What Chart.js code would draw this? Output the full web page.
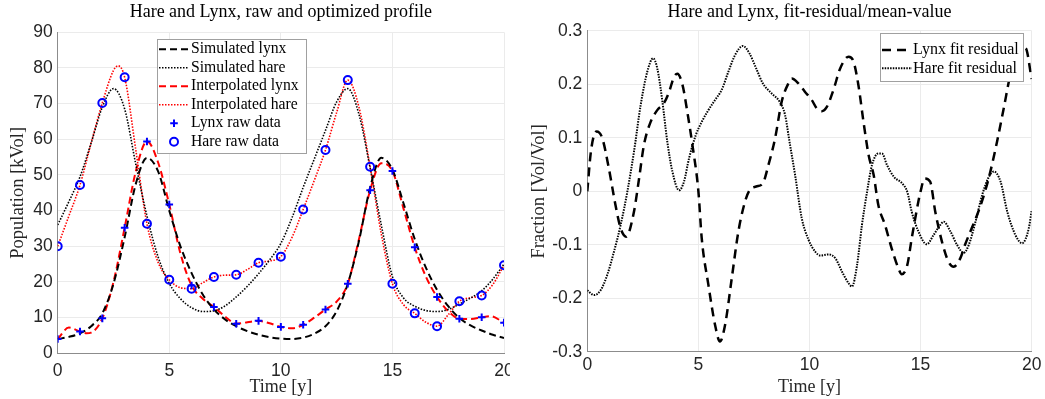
<!DOCTYPE html>
<html><head><meta charset="utf-8">
<script src="https://cdn.jsdelivr.net/npm/chart.js@4.4.1/dist/chart.umd.min.js"></script>
<style>
html,body{margin:0;padding:0;background:#fff;width:1045px;height:399px;overflow:hidden}
#c1{position:absolute;left:0;top:0}
#c2{position:absolute;left:510px;top:0}
</style></head><body>
<canvas id="c1" width="510" height="399"></canvas>
<canvas id="c2" width="535" height="399"></canvas>
<script>
// ---------- Left chart data ----------
const years = [0,1,2,3,4,5,6,7,8,9,10,11,12,13,14,15,16,17,18,19,20];
const hareRaw = [30,47.2,70.2,77.4,36.3,20.6,18.1,21.4,22,25.4,27.1,40.3,57,76.6,52.3,19.5,11.2,7.6,14.6,16.2,24.7];
const lynxRaw = [4,6.1,9.8,35.2,59.4,41.7,19,13,8.3,9.1,7.4,8,12.3,19.5,45.7,51.1,29.7,15.8,9.7,10.1,8.6];

const tSim = [0,0.5,1,1.5,2,2.5,3,3.5,4,4.5,5,5.5,6,6.5,7,7.5,8,8.5,9,9.5,10,10.5,11,11.5,12,12.5,13,13.5,14,14.5,15,15.5,16,16.5,17,17.5,18,18.5,19,19.5,20];
const simHare = [36,42.5,49.5,59,69,74.2,68.5,53,38.5,27,19.6,15.3,12.8,11.7,11.9,13.3,15.8,18.8,22.3,26.2,30.8,38,46.5,54.5,62.5,70.5,74.2,67,52,36,21.5,15.5,13.2,12,11.7,12.3,13.8,15.5,17.5,20.8,25];
const simLynx = [4.0,4.6,5.6,7.6,11.2,19.5,32.5,47.5,54.8,51,40,30,22.5,16.5,12.3,9.5,7.6,6.2,5.2,4.5,4.1,4.0,4.4,5.5,7.6,11.8,19.5,31.5,46.5,54.8,51.5,42,32,24,17.8,13.2,9.9,7.8,6.4,5.2,4.3];

const tIntHare = [0,0.5,1,1.5,2,2.5,2.7,3,3.5,4,4.5,5,5.5,6,6.5,7,7.5,8,8.5,9,9.5,10,10.5,11,11.5,12,12.5,13,13.5,14,14.5,15,15.5,16,16.5,17,17.5,18,18.5,19,19.5,20];
const intHare = [30,38.5,47.2,59,70.2,79.3,80.6,77.4,57,36.3,25.5,20.6,18.4,18.1,19.8,21.4,21.9,22,23.5,25.4,25.9,27.1,32.5,40.3,48.5,57,67.5,76.6,69,52.3,33.5,19.5,13.6,11.2,8.7,7.6,10.8,14.6,15.6,16.2,19.3,24.7];
const tIntLynx = [0,0.5,1,1.3,1.5,2,2.5,3,3.5,4,4.5,5,5.5,6,6.5,7,7.5,8,8.5,9,9.5,10,10.5,11,11.5,12,12.5,13,13.5,14,14.5,15,15.5,16,16.5,17,17.5,18,18.5,19,19.4,20];
const intLynx = [4,7.2,6.1,5.6,5.8,9.8,20,35.2,51,59.4,53.5,41.7,28,19,15.3,13,10.3,8.3,8.7,9.1,8.4,7.4,7.0,8,10,12.3,14.5,19.5,32,45.7,53.3,51.1,40.5,29.7,21.5,15.8,11.8,9.7,9.6,10.1,10.4,8.6];

const popTicks = [0,10,20,30,40,50,60,70,80,90];
const timeTicks = [0,5,10,15,20];

// ---------- Right chart data ----------
const tLynxRes = [0,0.15,0.3,0.42,0.67,0.97,1.27,1.5,1.75,2.1,2.33,2.55,2.85,3.15,3.45,3.68,3.9,4.05,4.28,4.5,4.73,5.0,5.15,5.45,5.75,5.97,6.2,6.5,6.8,7.1,7.3,7.6,7.9,8.15,8.45,8.75,9.05,9.2,9.5,9.8,10.1,10.33,10.55,10.78,11.08,11.38,11.76,11.98,12.2,12.43,12.66,12.89,13.1,13.4,13.7,14.0,14.15,14.4,14.6,14.9,15.0,15.18,15.43,15.66,15.96,16.26,16.49,16.79,17.0,17.3,17.6,17.9,18.14,18.44,18.74,19.04,19.3,19.5,19.72,20];
const lynxRes = [0,0.07,0.105,0.112,0.1,0.043,-0.026,-0.069,-0.085,-0.038,0.024,0.087,0.13,0.152,0.165,0.186,0.214,0.22,0.2,0.149,0.087,0.0,-0.088,-0.175,-0.25,-0.281,-0.25,-0.163,-0.075,-0.019,0.002,0.009,0.015,0.049,0.099,0.168,0.202,0.211,0.202,0.186,0.171,0.155,0.15,0.158,0.19,0.23,0.252,0.243,0.199,0.13,0.068,0.03,-0.026,-0.063,-0.107,-0.144,-0.155,-0.138,-0.088,-0.019,0.0,0.024,0.018,-0.038,-0.094,-0.132,-0.141,-0.125,-0.1,-0.069,-0.038,0.0,0.037,0.093,0.155,0.218,0.25,0.262,0.268,0.21];
const tHareRes = [0,0.3,0.6,0.9,1.2,1.5,1.8,2.1,2.4,2.7,2.96,3.15,3.38,3.6,3.83,4.13,4.35,4.58,4.88,5.15,5.45,5.75,6.05,6.35,6.65,7.0,7.3,7.6,7.9,8.3,8.65,8.9,9.1,9.35,9.65,9.95,10.26,10.48,10.86,11.16,11.46,11.76,11.91,12.14,12.36,12.59,12.81,13.1,13.26,13.49,13.8,14.17,14.4,14.6,14.9,15.28,15.58,15.88,16.04,16.34,16.64,16.94,17.17,17.47,17.77,18.07,18.3,18.6,18.9,19.27,19.57,19.87,20];
const hareRes = [-0.185,-0.194,-0.185,-0.156,-0.113,-0.063,-0.001,0.074,0.161,0.224,0.249,0.23,0.168,0.093,0.037,0.002,0.018,0.062,0.105,0.13,0.152,0.171,0.19,0.224,0.255,0.272,0.258,0.23,0.202,0.183,0.168,0.143,0.093,0.031,-0.05,-0.09,-0.113,-0.12,-0.118,-0.125,-0.15,-0.172,-0.178,-0.138,-0.063,-0.001,0.049,0.071,0.071,0.049,0.027,0.015,-0.001,-0.038,-0.075,-0.099,-0.082,-0.063,-0.057,-0.075,-0.1,-0.115,-0.1,-0.057,-0.007,0.027,0.037,0.018,-0.038,-0.082,-0.097,-0.069,-0.035];
const fracTicks = [-0.3,-0.2,-0.1,0,0.1,0.2,0.3];

// ---------- helpers ----------
const pts = (xs, ys) => xs.map((x, i) => ({x: x, y: ys[i]}));
const SERIF = "'Liberation Serif', 'DejaVu Serif', serif";
const SANS = "'Liberation Sans', Arial, sans-serif";
const GRID = '#ebebeb';
const AXIS = '#8c8c8c';
const TICKC = '#262626';
const TICKSIZE = 17.5;

function makeLegend(cfg) {
  return {
    id: 'boxLegend',
    afterDatasetsDraw(chart) {
      const ctx = chart.ctx;
      ctx.save();
      ctx.fillStyle = '#fff';
      ctx.fillRect(cfg.x, cfg.y, cfg.w, cfg.h);
      ctx.strokeStyle = '#a0a0a0';
      ctx.lineWidth = 1;
      ctx.strokeRect(cfg.x + 0.5, cfg.y + 0.5, cfg.w, cfg.h);
      cfg.items.forEach((idx, i) => {
        const ds = chart.data.datasets[idx];
        const cy = cfg.y + cfg.first + i * cfg.rowH;
        if (ds.showLine) {
          ctx.beginPath();
          ctx.setLineDash(ds.borderDash || []);
          ctx.strokeStyle = ds.borderColor;
          ctx.lineWidth = ds.borderWidth;
          ctx.moveTo(cfg.x + cfg.l0, cy);
          ctx.lineTo(cfg.x + cfg.l1, cy);
          ctx.stroke();
          ctx.setLineDash([]);
        } else {
          ctx.strokeStyle = ds.borderColor;
          ctx.fillStyle = 'rgba(0,0,0,0)';
          ctx.lineWidth = ds.pointBorderWidth;
          Chart.helpers.drawPoint(ctx, {pointStyle: ds.pointStyle, radius: ds.pointRadius, borderWidth: ds.pointBorderWidth, rotation: 0}, cfg.x + (cfg.l0 + cfg.l1) / 2, cy);
        }
        ctx.fillStyle = '#000';
        ctx.font = cfg.font;
        ctx.textBaseline = 'middle';
        ctx.textAlign = 'left';
        ctx.fillText(ds.label, cfg.x + cfg.tx, cy);
      });
      ctx.restore();
    }
  };
}

function lineDs(label, data, color, dash, width) {
  return {label, data, showLine: true, borderColor: color, backgroundColor: color,
    borderDash: dash, borderWidth: width, pointRadius: 0, pointHoverRadius: 0,
    cubicInterpolationMode: 'monotone', fill: false, order: 1};
}
function markDs(label, data, style, r) {
  return {label, data, showLine: false, pointStyle: style, pointRadius: r,
    pointBorderWidth: 2, borderColor: '#0000ff', backgroundColor: 'rgba(0,0,0,0)',
    pointBackgroundColor: 'rgba(0,0,0,0)', pointBorderColor: '#0000ff', order: 0};
}

function scalesFor(opt) {
  return {
    x: {
      type: 'linear', min: 0, max: 20,
      afterBuildTicks: s => { s.ticks = timeTicks.map(v => ({value: v})); },
      ticks: {font: {family: SANS, size: TICKSIZE}, color: TICKC, padding: opt.xPad, maxRotation: 0, autoSkip: false},
      grid: {color: GRID, drawTicks: false, lineWidth: 1},
      border: {color: AXIS, width: 1},
      title: {display: true, text: 'Time [y]', font: {family: SERIF, size: 18}, color: '#262626', padding: {top: 0, bottom: opt.xTitlePad}},
      afterFit: s => { s.height = opt.xH; s.paddingLeft = 0; s.paddingRight = 0; }
    },
    y: {
      type: 'linear', min: opt.yMin, max: opt.yMax,
      afterBuildTicks: s => { s.ticks = opt.yTicks.map(v => ({value: v})); },
      ticks: {font: {family: SANS, size: TICKSIZE}, color: TICKC, padding: 5, autoSkip: false,
        callback: v => String(Math.round(v * 10) / 10)},
      grid: {color: GRID, drawTicks: false, lineWidth: 1},
      border: {color: AXIS, width: 1},
      title: {display: true, text: opt.yTitle, font: {family: SERIF, size: 18.5}, color: '#262626', padding: {top: opt.yTitlePad, bottom: 0}},
      afterFit: s => { s.width = opt.yW; s.paddingTop = 0; s.paddingBottom = 0; }
    }
  };
}

// ---------- Left chart ----------
new Chart(document.getElementById('c1'), {
  type: 'scatter',
  data: {
    datasets: [
      lineDs('Simulated lynx', pts(tSim, simLynx), '#000000', [7, 4], 2),
      lineDs('Simulated hare', pts(tSim, simHare), '#000000', [1.5, 1.5], 1.6),
      lineDs('Interpolated lynx', pts(tIntLynx, intLynx), '#ff0000', [7, 4], 2),
      lineDs('Interpolated hare', pts(tIntHare, intHare), '#ff0000', [1.5, 1.5], 1.6),
      markDs('Lynx raw data', pts(years, lynxRaw), 'cross', 3.8),
      markDs('Hare raw data', pts(years, hareRaw), 'circle', 4)
    ]
  },
  options: {
    responsive: false, animation: false, events: [],
    layout: {padding: {left: 0, right: 6, top: 0, bottom: 0}},
    plugins: {
      legend: {display: false}, tooltip: {enabled: false},
      title: {display: true, text: 'Hare and Lynx, raw and optimized profile', fullSize: false,
        font: {family: SERIF, size: 18, weight: 'normal'}, color: '#000', padding: {top: 1.2, bottom: 9.5}}
    },
    scales: scalesFor({yMin: 0, yMax: 90, yTicks: popTicks, yTitle: 'Population [kVol]',
      xH: 45.7, yW: 57.7, xPad: 7, xTitlePad: 1, yTitlePad: 7})
  },
  plugins: [makeLegend({x: 157, y: 39, w: 149, h: 114, first: 10.3, rowH: 18.5,
    l0: 2, l1: 32, tx: 34, font: "15.7px " + SERIF, items: [0, 1, 2, 3, 4, 5]})]
});

// ---------- Right chart ----------
new Chart(document.getElementById('c2'), {
  type: 'scatter',
  data: {
    datasets: [
      lineDs('Lynx fit residual', pts(tLynxRes, lynxRes), '#000000', [9, 6], 2.5),
      lineDs('Hare fit residual', pts(tHareRes, hareRes), '#000000', [1.5, 1.2], 2)
    ]
  },
  options: {
    responsive: false, animation: false, events: [],
    layout: {padding: {left: 0, right: 13.3, top: 0, bottom: 0}},
    plugins: {
      legend: {display: false}, tooltip: {enabled: false},
      title: {display: true, text: 'Hare and Lynx, fit-residual/mean-value', fullSize: false,
        font: {family: SERIF, size: 18, weight: 'normal'}, color: '#000', padding: {top: 1.2, bottom: 8.2}}
    },
    scales: scalesFor({yMin: -0.3, yMax: 0.3, yTicks: fracTicks, yTitle: 'Fraction [Vol/Vol]',
      xH: 47.3, yW: 77.3, xPad: 3, xTitlePad: 1, yTitlePad: 18})
  },
  plugins: [makeLegend({x: 370, y: 33, w: 143, h: 48, first: 17, rowH: 18.3,
    l0: 2, l1: 32, tx: 33, font: "16px " + SERIF, items: [0, 1]})]
});
</script>
</body></html>
